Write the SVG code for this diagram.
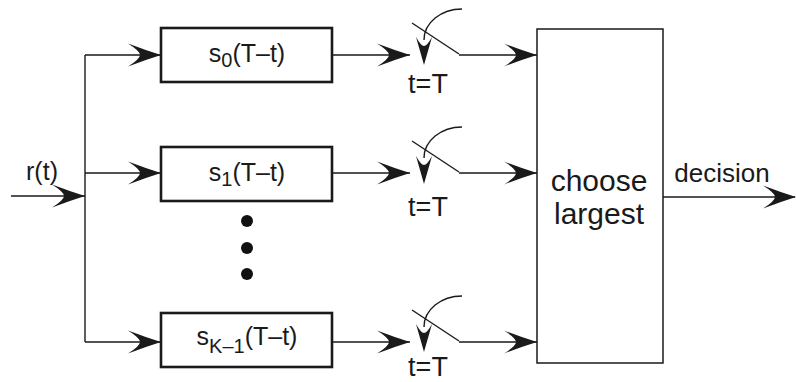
<svg xmlns="http://www.w3.org/2000/svg" xmlns:xlink="http://www.w3.org/1999/xlink" width="796" height="382" viewBox="0 0 796 382">
  <style>
    .ln { fill: none; stroke: #1a1a1a; stroke-width: 1.4; }
    .box { fill: #fff; stroke: #1a1a1a; stroke-width: 2.6; }
    .big { fill: #fff; stroke: #1a1a1a; stroke-width: 1.5; }
    .ah { fill: #1a1a1a; }
    text { font-family: "Liberation Sans", Arial, sans-serif; fill: #1a1a1a; }
    .lbl { font-size: 25px; }
    .tt { font-size: 27px; }
    .sub { font-size: 20px; }
    .big-t { font-size: 30px; }
  </style>
  <defs>
    <!-- barbed arrowhead, tip at origin, pointing +x -->
    <path id="ah" class="ah" d="M0,0 Q-16,-5 -33,-11.5 Q-21,-4 -21,0 Q-21,4 -33,11.5 Q-16,5 0,0 Z"/>
    <!-- narrower arrowhead for the sampling switch -->
    <path id="ahs" class="ah" d="M0,0 Q-14,-4 -28,-8 Q-19,-3 -19,0 Q-19,3 -28,8 Q-14,4 0,0 Z"/>
  </defs>

  <!-- connectors -->
  <g id="connectors">
    <path class="ln" d="M11,196 H85"/>
    <use xlink:href="#ah" transform="translate(85,196)"/>
    <path class="ln" d="M85,55 V342"/>
    <path class="ln" d="M85,55 H161 M85,173 H161 M85,342 H161"/>
    <use xlink:href="#ah" transform="translate(161,55)"/>
    <use xlink:href="#ah" transform="translate(161,173)"/>
    <use xlink:href="#ah" transform="translate(161,342)"/>

    <path class="ln" d="M332,55 H410 M332,173 H410 M332,342 H410"/>
    <use xlink:href="#ah" transform="translate(410,55)"/>
    <use xlink:href="#ah" transform="translate(410,173)"/>
    <use xlink:href="#ah" transform="translate(410,342)"/>

    <path class="ln" d="M459,55 H537 M459,173 H537 M459,342 H537"/>
    <use xlink:href="#ah" transform="translate(537,55)"/>
    <use xlink:href="#ah" transform="translate(537,173)"/>
    <use xlink:href="#ah" transform="translate(537,342)"/>

    <path class="ln" d="M663,197 H795"/>
    <use xlink:href="#ah" transform="translate(796,197)"/>
  </g>

  <!-- filter banks -->
  <g id="filter0">
    <rect class="box" x="161" y="28" width="171" height="54"/>
    <text class="lbl" x="247" y="62" text-anchor="middle">s<tspan class="sub" dy="5">0</tspan><tspan dy="-5">(T–t)</tspan></text>
  </g>
  <g id="filter1">
    <rect class="box" x="161" y="147" width="171" height="54"/>
    <text class="lbl" x="247" y="181" text-anchor="middle">s<tspan class="sub" dy="5">1</tspan><tspan dy="-5">(T–t)</tspan></text>
  </g>
  <g id="ellipsis">
    <circle cx="247" cy="221" r="6" fill="#111"/>
    <circle cx="247" cy="248" r="6" fill="#111"/>
    <circle cx="247" cy="274" r="6" fill="#111"/>
  </g>
  <g id="filterK">
    <rect class="box" x="161" y="313" width="171" height="54"/>
    <text class="lbl" x="247" y="345" text-anchor="middle">s<tspan class="sub" dy="8">K–1</tspan><tspan dy="-8">(T–t)</tspan></text>
  </g>

  <!-- samplers at t = T -->
  <g id="switch0">
    <path class="ln" d="M412,23 L459,54"/>
    <path class="ln" d="M462,9 A38,31 0 0 0 424,40"/>
    <use xlink:href="#ahs" transform="translate(424,65) rotate(90)"/>
    <text class="tt" x="428" y="93" text-anchor="middle">t=T</text>
  </g>
  <g id="switch1">
    <path class="ln" d="M412,141 L459,172"/>
    <path class="ln" d="M462,127 A38,31 0 0 0 424,158"/>
    <use xlink:href="#ahs" transform="translate(424,184) rotate(90)"/>
    <text class="tt" x="428" y="216" text-anchor="middle">t=T</text>
  </g>
  <g id="switchK">
    <path class="ln" d="M412,310 L459,341"/>
    <path class="ln" d="M462,296 A38,31 0 0 0 424,327"/>
    <use xlink:href="#ahs" transform="translate(424,352) rotate(90)"/>
    <text class="tt" x="428" y="376" text-anchor="middle">t=T</text>
  </g>

  <!-- decision stage -->
  <g id="chooser">
    <rect class="big" x="537" y="29" width="126" height="334"/>
    <text class="big-t" x="599" y="191" text-anchor="middle">choose</text>
    <text class="big-t" x="599" y="224" text-anchor="middle">largest</text>
  </g>

  <g id="labels">
    <text class="lbl" x="42" y="180" text-anchor="middle">r(t)</text>
    <text class="lbl" x="722" y="182" text-anchor="middle" style="font-size:26px">decision</text>
  </g>
</svg>
